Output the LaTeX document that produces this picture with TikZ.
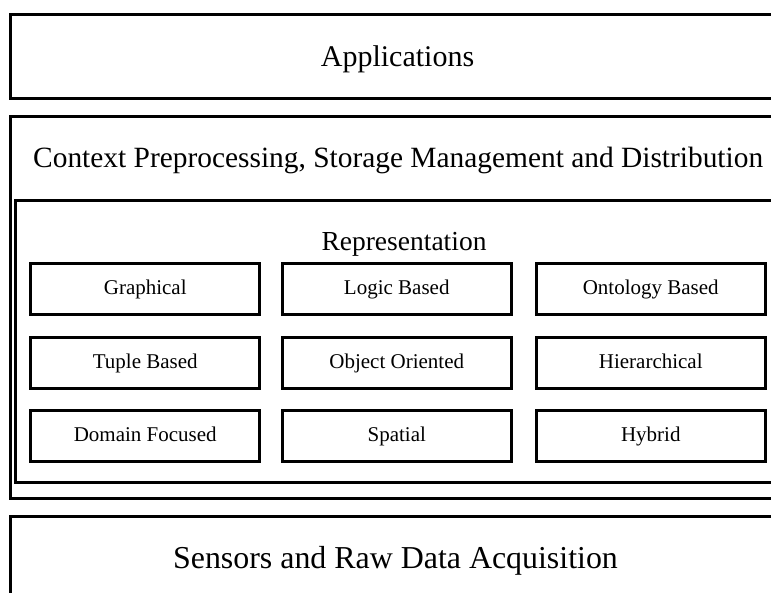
\documentclass[tikz,border=0pt]{standalone}
\usepackage{fontspec}
\setmainfont{Liberation Serif}
\begin{document}
\begin{tikzpicture}[x=1bp,y=-1bp,
  layer/.style={draw=black,line width=3bp},
  inner/.style={draw=black,line width=2.5bp},
  cell/.style={draw=black,line width=2.8bp,minimum width=229bp,minimum height=51bp,
    inner sep=0pt,text height=14.5bp,text depth=4.5bp,
    font=\fontsize{21bp}{24bp}\selectfont},
  title/.style={inner sep=0pt,anchor=base}]
\useasboundingbox (0,0) rectangle (771,593);
\clip (0,0) rectangle (771,593);
\fill[white] (0,0) rectangle (771,593);

% stacked layers
\draw[layer] (10.5,15) rectangle (790,99);
\node[title,font=\fontsize{30bp}{34bp}\selectfont] (app) at (397.5,67) {Applications};

\draw[layer] (10.5,117) rectangle (790,498.5);
\node[title,anchor=base west,font=\fontsize{29.4bp}{34bp}\selectfont] (ctx) at (33,168)
  {Context Preprocessing, Storage Management and Distribution};

\draw[inner] (15.5,200.5) rectangle (790,482.5);
\node[title,font=\fontsize{27.5bp}{30bp}\selectfont] (rep) at (404,250) {Representation};

\draw[layer] (10.5,516) rectangle (790,620);
\node[title,font=\fontsize{31.9bp}{36bp}\selectfont] (sen) at (395.5,568)
  {Sensors and Raw Data Acquisition};

% representation kinds
\node[cell] (g1) at (145.25,289)  {Graphical};
\node[cell] (g2) at (396.75,289)  {Logic Based};
\node[cell] (g3) at (650.75,289)  {Ontology Based};
\node[cell] (g4) at (145.25,363)  {Tuple Based};
\node[cell] (g5) at (396.75,363)  {Object Oriented};
\node[cell] (g6) at (650.75,363)  {Hierarchical};
\node[cell] (g7) at (145.25,436)  {Domain Focused};
\node[cell] (g8) at (396.75,436)  {Spatial};
\node[cell] (g9) at (650.75,436)  {Hybrid};
\end{tikzpicture}
\end{document}
